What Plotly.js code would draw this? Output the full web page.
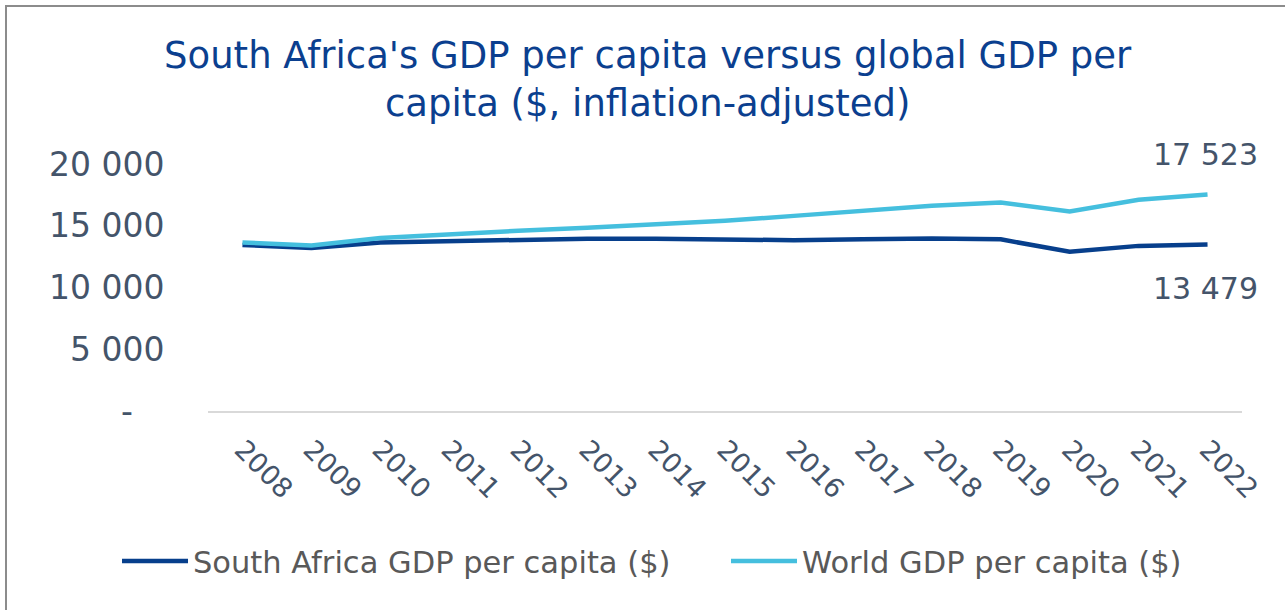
<!DOCTYPE html>
<html>
<head>
<meta charset="utf-8">
<script src="https://cdn.plot.ly/plotly-3.0.1.min.js"></script>
<style>
  html, body { margin: 0; padding: 0; background: #ffffff; }
  #wrap { position: relative; width: 1285px; height: 610px; overflow: hidden; }
  #frame { position: absolute; left: 5px; top: 5px; width: 1300px; height: 700px;
           border: 2px solid #8c8c8c; pointer-events: none; box-sizing: border-box; }
  #chart { position: absolute; left: 0; top: 0; width: 1285px; height: 610px; }
</style>
</head>
<body>
<div id="wrap">
  <div id="chart"></div>
  <div id="frame"></div>
</div>
<script>
const years = ["2008","2009","2010","2011","2012","2013","2014","2015","2016","2017","2018","2019","2020","2021","2022"];
const southAfrica = [13450, 13200, 13650, 13780, 13900, 13950, 13950, 13850, 13830, 13900, 13970, 13900, 12890, 13370, 13479];
const world = [13650, 13400, 14000, 14320, 14590, 14830, 15070, 15400, 15800, 16200, 16610, 16880, 16150, 17100, 17523];
const yTickVals = [0, 5000, 10000, 15000, 20000];
const yTickText = ["-&nbsp;&nbsp;&nbsp;", "5 000", "10 000", "15 000", "20 000"];
const seriesNames = ["South Africa GDP per capita ($)", "World GDP per capita ($)"];
const endLabels = ["13 479", "17 523"];

const FONT = "DejaVu Sans, Open Sans, sans-serif";
const navy = "#073f8c";
const cyan = "#45bfde";
const tickColor = "#44546a";
const last = years.length - 1;

const traces = [
  { x: years, y: southAfrica, name: seriesNames[0], type: "scatter", mode: "lines",
    line: { color: navy, width: 4.5 }, hoverinfo: "x+y" },
  { x: years, y: world, name: seriesNames[1], type: "scatter", mode: "lines",
    line: { color: cyan, width: 4.5 }, hoverinfo: "x+y" }
];

const layout = {
  width: 1285, height: 610,
  paper_bgcolor: "rgba(0,0,0,0)", plot_bgcolor: "rgba(0,0,0,0)",
  margin: { l: 208, r: 43, t: 164, b: 198.5, pad: 0, autoexpand: false },
  font: { family: FONT, color: tickColor },
  title: {
    text: "South Africa's GDP per capita versus global GDP per<br>capita ($, inflation-adjusted)",
    font: { family: FONT, size: 37, color: "#0b3f8f" },
    x: 0.504, xref: "container", xanchor: "center",
    y: 1 - 68/610, yref: "container", yanchor: "top"
  },
  xaxis: {
    type: "category", range: [-0.5, 14.5], automargin: false,
    showgrid: false, zeroline: false,
    showline: true, linecolor: "#d9d9d9", linewidth: 2,
    ticks: "outside", ticklen: 10, tickcolor: "rgba(0,0,0,0)",
    tickangle: 45,
    tickfont: { family: FONT, size: 27, color: tickColor }
  },
  yaxis: {
    range: [0, 20000], showgrid: false, zeroline: false, showline: false, automargin: false,
    tickvals: yTickVals, ticktext: yTickText,
    ticks: "outside", ticklen: 36, tickcolor: "rgba(0,0,0,0)",
    tickfont: { family: FONT, size: 33, color: tickColor }
  },
  showlegend: true,
  legend: {
    orientation: "h", x: -0.088, xanchor: "left", y: -0.608, yanchor: "middle",
    font: { family: FONT, size: 30.5, color: "#595959" },
    itemwidth: 66, entrywidth: 528, entrywidthmode: "pixels",
    traceorder: "normal", bgcolor: "rgba(0,0,0,0)"
  },
  annotations: [
    { x: last, y: southAfrica[last], text: endLabels[0],
      xref: "x", yref: "y", showarrow: false, xanchor: "right", yanchor: "middle",
      xshift: 52, yshift: -44, font: { family: FONT, size: 30, color: tickColor } },
    { x: last, y: world[last], text: endLabels[1],
      xref: "x", yref: "y", showarrow: false, xanchor: "right", yanchor: "middle",
      xshift: 52, yshift: 40, font: { family: FONT, size: 30, color: tickColor } }
  ]
};

Plotly.newPlot("chart", traces, layout, { displayModeBar: false });
</script>
</body>
</html>
